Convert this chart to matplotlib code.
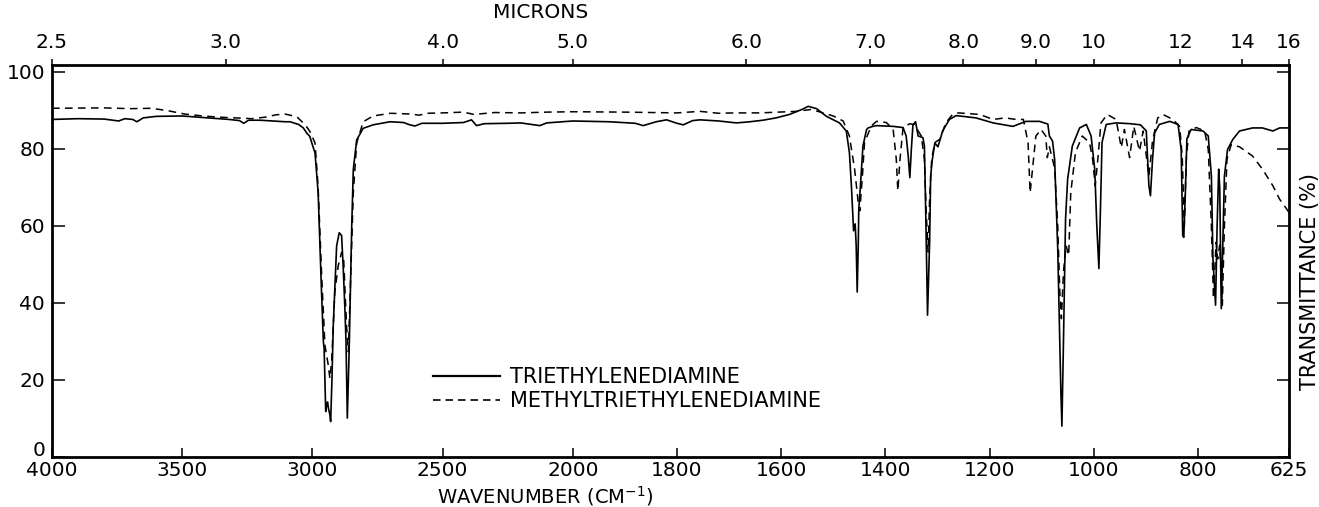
import numpy as np
import matplotlib
matplotlib.use("Agg")
import matplotlib.pyplot as plt
from matplotlib.lines import Line2D
from matplotlib.ticker import NullLocator
from matplotlib.transforms import ScaledTranslation

# 読み取ったスペクトル（波数 cm-1, 透過率 %）
wn_solid = [4000, 3900, 3800, 3744, 3720, 3690, 3674, 3650, 3600, 3500, 3400, 3320, 3280, 3264, 3245,
            3200, 3150, 3105, 3086, 3053, 3035, 3021, 3010, 3000, 2990, 2978, 2965, 2958, 2955, 2952,
            2949, 2945, 2942, 2938, 2933, 2930, 2925, 2920, 2907, 2897, 2888, 2882, 2875, 2871, 2866,
            2859, 2849, 2843, 2830, 2805, 2767, 2702, 2650, 2626, 2606, 2580, 2500, 2420, 2389, 2370,
            2340, 2250, 2200, 2127, 2100, 2000, 1930, 1880, 1865, 1840, 1820, 1800, 1788, 1770, 1756,
            1720, 1686, 1660, 1635, 1610, 1584, 1560, 1548, 1532, 1513, 1500, 1488, 1475, 1469, 1465,
            1463, 1461, 1458, 1456, 1454, 1452, 1451, 1448, 1443, 1436, 1433, 1424, 1417, 1385, 1366,
            1360, 1356, 1353, 1350, 1347, 1342, 1337, 1328, 1325, 1322, 1319, 1315, 1313, 1310, 1305,
            1299, 1290, 1277, 1264, 1245, 1226, 1193, 1155, 1130, 1104, 1088, 1085, 1079, 1075, 1069,
            1066, 1063, 1061, 1058, 1054, 1050, 1041, 1027, 1014, 1005, 998, 994, 990, 987, 984,
            976, 957, 930, 910, 899, 894, 891, 887, 883, 874, 854, 838, 832, 829, 827,
            824, 821, 813, 790, 780, 774, 771, 766, 763, 760, 758, 755, 752, 749, 743,
            733, 720, 695, 676, 656, 643, 625]
t_solid = [87.6, 87.8, 87.7, 87.2, 87.8, 87.6, 87.0, 88.0, 88.4, 88.5, 88.0, 87.6, 87.3, 86.6, 87.4,
           87.4, 87.2, 87.0, 87.0, 86.3, 85.4, 84.0, 83.2, 81.0, 78.9, 68.6, 42.8, 30.0, 28.1, 20.0,
           11.8, 13.5, 14.3, 12.5, 11.0, 9.2, 20.0, 34.1, 54.8, 58.2, 57.5, 49.6, 38.0, 29.9, 10.1,
           27.3, 60.0, 74.6, 82.3, 85.3, 86.2, 87.0, 86.8, 86.2, 85.9, 86.6, 86.6, 86.8, 87.5, 86.0,
           86.5, 86.6, 86.7, 86.0, 86.7, 87.2, 87.0, 86.6, 86.0, 87.0, 87.5, 86.6, 86.2, 87.3, 87.5,
           87.2, 86.7, 87.0, 87.4, 88.0, 88.9, 90.2, 91.0, 90.4, 88.4, 87.5, 86.7, 84.6, 79.0, 70.0,
           64.3, 58.7, 60.5, 55.0, 42.8, 55.0, 64.3, 70.0, 80.7, 85.0, 85.4, 85.8, 86.0, 85.8, 85.5,
           83.3, 78.0, 72.5, 80.0, 86.2, 87.0, 83.3, 82.9, 80.7, 60.0, 36.8, 55.7, 72.9, 77.0, 81.5,
           80.5, 84.6, 87.6, 88.6, 88.3, 88.0, 86.7, 85.8, 87.1, 87.1, 86.4, 83.3, 82.0, 77.3, 54.0,
           35.9, 17.0, 8.0, 29.9, 61.8, 72.1, 80.7, 85.4, 86.3, 83.3, 74.7, 60.0, 48.9, 64.3, 81.6,
           86.3, 86.7, 86.5, 86.2, 84.6, 70.4, 67.8, 77.3, 84.1, 86.3, 87.1, 86.3, 79.8, 57.4, 57.0,
           68.6, 82.6, 85.0, 84.6, 83.3, 72.9, 51.4, 39.4, 60.0, 74.7, 70.0, 38.5, 55.7, 72.9, 79.8,
           82.4, 84.6, 85.4, 85.4, 84.6, 85.4, 85.4]

wn_dash = [4000, 3800, 3700, 3616, 3550, 3490, 3420, 3360, 3300, 3232, 3180, 3140, 3105, 3060, 3040,
           3020, 3010, 2990, 2978, 2965, 2952, 2939, 2933, 2926, 2914, 2901, 2888, 2880, 2869, 2862,
           2853, 2843, 2830, 2805, 2767, 2700, 2620, 2590, 2560, 2500, 2420, 2380, 2300, 2200, 2100,
           2000, 1900, 1800, 1756, 1720, 1690, 1640, 1571, 1542, 1520, 1500, 1481, 1469, 1459, 1452,
           1449, 1444, 1440, 1427, 1417, 1398, 1385, 1379, 1376, 1372, 1366, 1353, 1344, 1331, 1325,
           1322, 1318, 1315, 1311, 1305, 1295, 1284, 1271, 1260, 1219, 1193, 1170, 1149, 1135, 1126,
           1122, 1117, 1111, 1101, 1092, 1089, 1085, 1075, 1069, 1065, 1062, 1058, 1053, 1048, 1044,
           1035, 1022, 1008, 1002, 997, 992, 986, 974, 957, 947, 941, 931, 923, 912, 905,
           894, 887, 877, 867, 848, 835, 830, 826, 822, 817, 803, 787, 780, 774, 770,
           765, 762, 758, 753, 749, 744, 736, 720, 695, 676, 656, 643, 625]
t_dash = [90.5, 90.6, 90.4, 90.5, 89.8, 89.0, 88.5, 88.2, 88.0, 87.8, 88.2, 88.8, 89.0, 88.3, 87.0,
          85.5, 84.5, 81.5, 70.0, 47.9, 29.0, 23.8, 20.4, 25.0, 42.8, 49.6, 53.1, 51.4, 34.1, 27.3,
          47.0, 68.6, 81.5, 87.0, 88.5, 89.2, 89.0, 88.7, 89.2, 89.3, 89.5, 88.9, 89.4, 89.3, 89.5,
          89.6, 89.5, 89.3, 89.7, 89.2, 89.3, 89.3, 89.7, 90.2, 89.3, 88.5, 87.2, 83.3, 74.7, 66.0,
          63.9, 73.0, 81.6, 85.9, 87.1, 86.8, 85.0, 77.3, 69.1, 77.0, 85.5, 86.5, 86.2, 83.3, 77.3,
          65.2, 53.2, 67.0, 77.3, 81.6, 82.5, 86.7, 88.9, 89.3, 88.9, 87.6, 88.0, 87.6, 87.6, 81.6,
          68.6, 75.4, 83.3, 85.0, 83.3, 77.7, 80.5, 75.0, 60.0, 42.8, 35.9, 48.0, 54.9, 52.3, 68.6,
          79.0, 83.3, 81.6, 77.3, 70.4, 77.3, 86.7, 88.9, 87.6, 80.3, 85.0, 77.7, 85.8, 79.4, 84.6,
          72.9, 82.0, 88.0, 88.9, 87.6, 85.8, 78.0, 60.0, 78.0, 84.6, 85.5, 84.6, 79.8, 60.0, 41.1,
          55.7, 51.4, 55.0, 39.4, 60.0, 77.3, 81.1, 80.5, 78.1, 74.7, 70.4, 66.9, 63.5]

bottom_ticks = [4000, 3500, 3000, 2500, 2000, 1800, 1600, 1400, 1200, 1000, 800, 625]
micron_ticks = [2.5, 3.0, 4.0, 5.0, 6.0, 7.0, 8.0, 9.0, 10, 12, 14, 16]
micron_labels = ["2.5", "3.0", "4.0", "5.0", "6.0", "7.0", "8.0", "9.0", "10", "12", "14", "16"]
y_ticks = [0, 20, 40, 60, 80, 100]
series_names = ["TRIETHYLENEDIAMINE", "METHYLTRIETHYLENEDIAMINE"]


# 2000 cm-1 で目盛り間隔が2倍になる横軸
def fwd(w):
    w = np.asarray(w, dtype=float)
    return np.where(w >= 2000, w, 2 * w - 2000)


def inv(u):
    u = np.asarray(u, dtype=float)
    return np.where(u >= 2000, u, (u + 2000) / 2)


plt.rcParams['font.family'] = ['DejaVu Sans']
FS = 15

fig = plt.figure(figsize=(13.19, 5.07), dpi=100)
ax = fig.add_axes([0.03942, 0.09862, 0.93783, 0.77219])
ax.set_xscale('function', functions=(fwd, inv))

dash_style = (0, (5, 3.5))
ax.plot(wn_dash, t_dash, color='black', lw=1.1, linestyle=dash_style)
ax.plot(wn_solid, t_solid, color='black', lw=1.2)

ax.set_xlim(4000, 625)
ax.set_ylim(0.5, 101.6)
ax.set_xticks(bottom_ticks)
ax.set_xticklabels([str(t) for t in bottom_ticks])
ax.set_yticks(y_ticks)
ax.xaxis.set_minor_locator(NullLocator())
ax.yaxis.set_minor_locator(NullLocator())
ax.tick_params(axis='x', direction='in', length=6.5, width=1.1, top=True,
               labelsize=14.5, pad=3)
ax.tick_params(axis='y', direction='in', length=9, width=1.1, right=True,
               labelsize=14.5, pad=5)
for s in ax.spines.values():
    s.set_linewidth(2)

# 0 のラベルは少し上に
lab0 = ax.get_yticklabels()[0]
lab0.set_transform(lab0.get_transform() + ScaledTranslation(0, 8 / 100, fig.dpi_scale_trans))

# 上側のミクロン目盛り
ax2 = ax.twiny()
ax2.set_xscale('function', functions=(fwd, inv))
ax2.set_xlim(4000, 625)
ax2.set_xticks([1e4 / m for m in micron_ticks])
ax2.set_xticklabels(micron_labels)
ax2.xaxis.set_minor_locator(NullLocator())
ax2.tick_params(axis='x', direction='out', length=4, width=1.1, labelsize=14.5, pad=6)
for s in ax2.spines.values():
    s.set_visible(False)

handles = [Line2D([], [], color='black', lw=1.6),
           Line2D([], [], color='black', lw=1.2, linestyle=(0, (4.5, 3)))]
ax.legend(handles, series_names, loc='center left',
          bbox_to_anchor=((433 - 52) / 1237, (457 - 389) / 391.5),
          frameon=False, fontsize=FS, handlelength=3.2, handletextpad=0.5,
          labelspacing=0.2, borderpad=0, borderaxespad=0)

fig.text(545 / 1319, 1 - 496 / 507, "WAVENUMBER (CM$^{-1}$)", ha='center', va='center', fontsize=14)
fig.text(541 / 1319, 1 - 13 / 507, "MICRONS", ha='center', va='center', fontsize=14.5)
fig.text(1310 / 1319, 1 - 281 / 507, "TRANSMITTANCE (%)", rotation=90,
         ha='center', va='center', fontsize=FS)

fig.savefig("out.png", dpi=100)
